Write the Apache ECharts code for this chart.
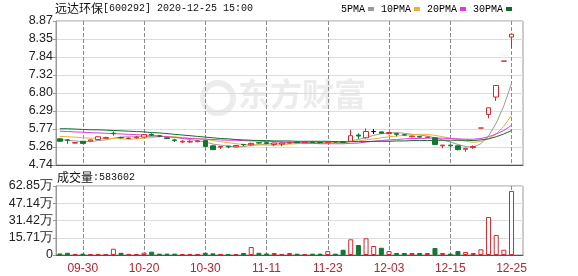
<!DOCTYPE html>
<html><head><meta charset="utf-8">
<script src="https://cdn.jsdelivr.net/npm/echarts@6/dist/echarts.min.js"></script>
<style>html,body{margin:0;padding:0;background:#fff}#c{width:578px;height:276px}</style>
</head><body><div id="c"></div>
<script>
const dates = ['09-25','09-28','09-29','09-30','10-09','10-12','10-13','10-14','10-15','10-16',
'10-19','10-20','10-21','10-22','10-23','10-26','10-27','10-28','10-29','10-30',
'11-02','11-03','11-04','11-05','11-06','11-09','11-10','11-11','11-12','11-13',
'11-16','11-17','11-18','11-19','11-20','11-23','11-24','11-25','11-26','11-27',
'11-30','12-01','12-02','12-03','12-04','12-07','12-08','12-09','12-10','12-11',
'12-14','12-15','12-16','12-17','12-18','12-21','12-22','12-23','12-24','12-25',''];
const opens  = [5.49,5.46,5.37,5.42,5.43,5.47,5.51,5.65,5.53,5.50, 5.52,5.54,5.62,5.58,5.52,5.46,5.40,5.40,5.41,5.44,
                5.29,5.25,5.28,5.26,5.33,5.32,5.38,5.38,5.33,5.34, 5.37,5.40,5.38,5.40,5.39,5.38,5.41,5.41,5.42,5.60,
                5.52,5.70,5.69,5.64,5.64,5.61,5.55,5.56,5.53,5.52, 5.29,5.31,5.29,5.19,5.24,5.80,6.19,6.69,7.72,8.41];
const closes = [5.42,5.45,5.38,5.36,5.46,5.55,5.53,5.64,5.52,5.51, 5.54,5.61,5.60,5.56,5.50,5.44,5.42,5.42,5.43,5.27,
                5.18,5.27,5.26,5.30,5.32,5.36,5.37,5.36,5.37,5.37, 5.39,5.38,5.40,5.39,5.38,5.41,5.40,5.39,5.58,5.57,
                5.70,5.70,5.65,5.67,5.62,5.60,5.57,5.54,5.54,5.33, 5.31,5.29,5.18,5.22,5.27,5.80,6.38,7.02,7.72,8.49];
const lows   = [5.40,5.35,5.36,5.34,5.42,5.46,5.50,5.58,5.50,5.48, 5.50,5.53,5.57,5.54,5.48,5.40,5.37,5.37,5.39,5.26,
                5.17,5.20,5.22,5.25,5.28,5.30,5.35,5.34,5.28,5.28, 5.35,5.37,5.37,5.37,5.36,5.37,5.38,5.37,5.40,5.49,
                5.50,5.63,5.63,5.62,5.56,5.58,5.53,5.52,5.52,5.31, 5.22,5.25,5.16,5.12,5.20,5.80,6.08,6.58,7.72,8.09];
const highs  = [5.50,5.48,5.40,5.43,5.47,5.56,5.55,5.70,5.55,5.53, 5.57,5.62,5.65,5.59,5.53,5.49,5.45,5.45,5.44,5.45,
                5.30,5.28,5.29,5.31,5.34,5.38,5.39,5.39,5.38,5.38, 5.41,5.41,5.41,5.41,5.40,5.42,5.42,5.43,5.75,5.65,
                5.79,5.77,5.70,5.69,5.65,5.62,5.58,5.57,5.55,5.53, 5.32,5.32,5.30,5.23,5.30,5.80,6.38,7.02,7.72,8.49];
const volumes = [14000,20000,10000,12000,9000,10000,9000,57000,20000,10000, 9000,21000,30000,12000,12000,12000,9000,10000,8000,20000,
                 15000,10000,8000,9000,18000,73000,20000,14000,18000,8000, 18000,12000,9000,12000,12000,36000,12000,48000,143000,91000,
                 152000,82000,66000,36000,18000,18000,18000,18000,18000,64000, 18000,12000,36000,27000,18000,52000,346000,182000,48000,583602];
const volUp = [0,0,1,0,1,1,1,1,0,1, 1,1,0,0,0,0,1,1,1,0, 0,1,0,1,0,1,0,0,1,1, 1,0,1,0,0,1,0,0,1,0, 1,1,0,1,0,0,1,0,1,0, 1,0,0,1,1,1,1,1,1,1];
const ma5  = [5.47,5.45,5.43,5.41,5.41,5.44,5.46,5.51,5.54,5.55, 5.55,5.56,5.56,5.56,5.56,5.54,5.50,5.47,5.44,5.40,
              5.34,5.31,5.28,5.26,5.27,5.30,5.32,5.34,5.36,5.37, 5.37,5.37,5.38,5.39,5.39,5.39,5.40,5.39,5.43,5.47,
              5.53,5.59,5.64,5.66,5.67,5.65,5.62,5.60,5.57,5.52, 5.46,5.40,5.33,5.27,5.25,5.35,5.57,5.94,6.44,7.08];
const ma10 = [5.56,5.55,5.54,5.52,5.51,5.51,5.50,5.50,5.49,5.48, 5.49,5.51,5.53,5.55,5.56,5.55,5.53,5.51,5.50,5.48,
              5.44,5.41,5.38,5.35,5.33,5.32,5.32,5.31,5.31,5.32, 5.34,5.35,5.36,5.37,5.38,5.38,5.39,5.39,5.41,5.43,
              5.46,5.49,5.52,5.55,5.57,5.59,5.61,5.62,5.62,5.59, 5.55,5.51,5.47,5.42,5.39,5.41,5.49,5.63,5.85,6.17];
const ma20 = [5.71,5.70,5.69,5.68,5.67,5.66,5.65,5.64,5.63,5.62, 5.61,5.60,5.59,5.57,5.55,5.53,5.51,5.50,5.49,5.48,
              5.47,5.46,5.45,5.45,5.44,5.43,5.43,5.41,5.41,5.40, 5.39,5.38,5.37,5.36,5.35,5.35,5.35,5.35,5.36,5.37,
              5.40,5.42,5.44,5.46,5.47,5.49,5.50,5.50,5.51,5.51, 5.51,5.50,5.49,5.48,5.48,5.50,5.55,5.63,5.73,5.88];
const ma30 = [5.78,5.78,5.77,5.76,5.75,5.75,5.74,5.73,5.72,5.71, 5.70,5.69,5.67,5.66,5.64,5.62,5.60,5.58,5.56,5.54,
              5.52,5.50,5.49,5.47,5.46,5.45,5.44,5.44,5.43,5.43, 5.43,5.42,5.42,5.42,5.42,5.42,5.41,5.40,5.41,5.41,
              5.41,5.42,5.42,5.42,5.43,5.43,5.44,5.44,5.44,5.45, 5.45,5.45,5.45,5.45,5.44,5.46,5.49,5.55,5.63,5.73];
const labelDates = ['09-30','10-20','10-30','11-11','11-23','12-03','12-15','12-25'];
const priceTicks = ['4.74','5.26','5.77','6.29','6.80','7.32','7.84','8.35','8.87'];
const volTicks = ['0','15.71万','31.42万','47.14万','62.85万'];
const blackDoji = [41];

const RED = '#d8262c', GREEN = '#12772f';
const candleData = opens.map((o, i) => {
  const item = { value: [o, closes[i], lows[i], highs[i]] };
  if (blackDoji.indexOf(i) >= 0) item.itemStyle = { color: '#000', color0: '#000', borderColor: '#000', borderColor0: '#000' };
  return item;
});
const volData = volumes.map((v, i) => ({
  value: v,
  itemStyle: volUp[i] ? { color: '#fff', borderColor: RED, borderWidth: 1 } : { color: GREEN, borderColor: GREEN, borderWidth: 1 }
}));
const isLabelDate = (idx, val) => labelDates.indexOf(val) >= 0 || labelDates.indexOf(dates[idx]) >= 0;
const vSplit = { show: true, interval: isLabelDate, alignWithLabel: true,
  lineStyle: { type: 'dashed', color: '#8c8c8c', width: 1 } };

const chart = echarts.init(document.getElementById('c'));
const labelFont = { fontFamily: 'Liberation Sans', fontSize: 12.5, color: '#222' };
const maLine = (name, data, color) => ({ name, type: 'line', data, xAxisIndex: 0, yAxisIndex: 0,
  showSymbol: false, symbol: 'none', lineStyle: { width: 1, color }, itemStyle: { color }, z: 3 });

chart.setOption({
  animation: false,
  grid: [
    { left: 56, top: 21, width: 467, height: 144, show: true, borderColor: '#999' },
    { left: 56, top: 186, width: 467, height: 69, show: true, borderColor: '#999' }
  ],
  legend: {
    data: ['5PMA', '10PMA', '20PMA', '30PMA'], top: 4, right: 66, align: 'right', icon: 'rect',
    itemWidth: 6, itemHeight: 4, itemGap: 7, padding: 0, selectedMode: false,
    textStyle: { fontFamily: 'Liberation Mono', fontSize: 10, color: '#000', padding: [0, -2, 0, 0] }
  },
  xAxis: [
    { type: 'category', gridIndex: 0, data: dates, axisLabel: { show: false }, splitLine: vSplit },
    { type: 'category', gridIndex: 1, data: dates, splitLine: vSplit,
      axisLabel: { show: true, interval: isLabelDate, margin: 8,
        fontFamily: 'Liberation Sans', fontSize: 12, color: '#b3282d' } }
  ],
  yAxis: [
    { type: 'value', gridIndex: 0, min: 4.74, max: 8.87, position: 'left',
      axisLine: { show: false }, axisTick: { show: false }, axisLabel: { show: false }, splitLine: { show: false } },
    { type: 'value', gridIndex: 0, min: 0, max: 8, interval: 1, position: 'left',
      axisLine: { show: true, lineStyle: { color: '#999' } },
      axisTick: { show: true, length: 3, lineStyle: { color: '#999' } },
      axisLabel: Object.assign({ margin: 3, formatter: v => priceTicks[Math.round(v)] }, labelFont),
      splitLine: { show: true, lineStyle: { color: '#dcdcdc', width: 1 } } },
    { type: 'value', gridIndex: 1, min: 0, max: 628500, interval: 157125, position: 'left',
      axisLine: { show: true, lineStyle: { color: '#999' } },
      axisTick: { show: true, length: 3, lineStyle: { color: '#999' } },
      axisLabel: Object.assign({ margin: 3, formatter: v => volTicks[Math.round(v / 157125)] }, labelFont),
      splitLine: { show: true, lineStyle: { color: '#dcdcdc', width: 1 } } }
  ],
  graphic: [
    { type: 'circle', left: 200, top: 80, z: 0, silent: true, shape: { r: 15 },
      style: { fill: 'none', stroke: '#ececec', lineWidth: 6 } },
    { type: 'text', left: 238, top: 78, z: 0, silent: true,
      style: { text: '东方财富', fontFamily: 'Noto Sans CJK SC', fontSize: 32, fontWeight: 'bold', fill: '#ececec' } },
    { type: 'text', left: 55, top: 2, z: 10, silent: true,
      style: { text: '{a|远达环保}{b|[600292] 2020-12-25 15:00}',
        rich: { a: { fontFamily: 'Noto Sans CJK SC', fontSize: 12, fill: '#111' },
                b: { fontFamily: 'Liberation Mono', fontSize: 10, fill: '#111' } } } },
    { type: 'text', left: 57, top: 171, z: 10, silent: true,
      style: { text: '{a|成交量}{b|:583602}',
        rich: { a: { fontFamily: 'Noto Sans CJK SC', fontSize: 12, fill: '#111' },
                b: { fontFamily: 'Liberation Mono', fontSize: 10, fill: '#111' } } } }
  ],
  series: [
    { type: 'candlestick', name: 'K', xAxisIndex: 0, yAxisIndex: 0, data: candleData, barWidth: 5, z: 4,
      itemStyle: { color: '#fff', color0: GREEN, borderColor: RED, borderColor0: GREEN, borderWidth: 1 } },
    maLine('5PMA', ma5, '#9a9a9a'),
    maLine('10PMA', ma10, '#e8b23a'),
    maLine('20PMA', ma20, '#e23ae0'),
    maLine('30PMA', ma30, '#0e6b2c'),
    { type: 'bar', name: 'VOL', xAxisIndex: 1, yAxisIndex: 2, data: volData, barWidth: 5, z: 4 }
  ]
});
</script></body></html>
